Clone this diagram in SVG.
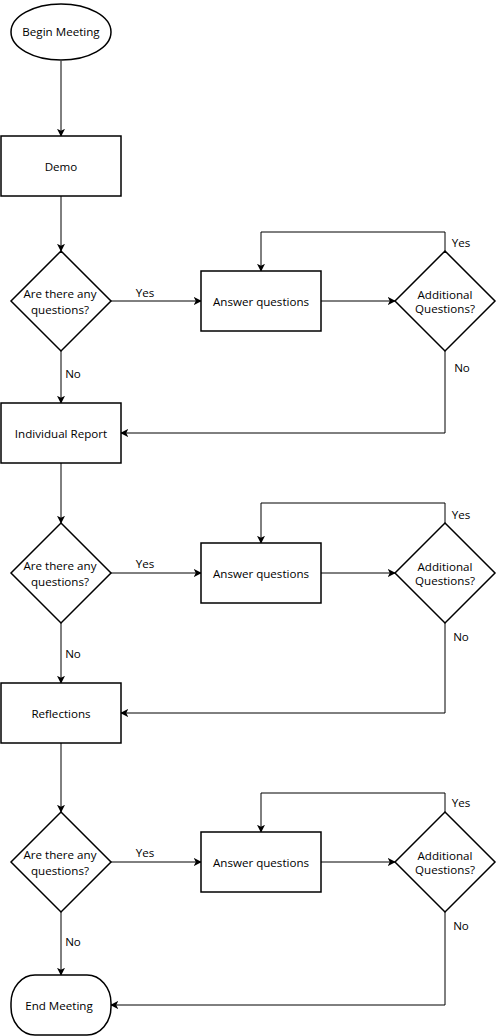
<svg xmlns="http://www.w3.org/2000/svg" width="497" height="1036" viewBox="0 0 497 1036">
<style>
.shape{fill:#fff;stroke:#000;stroke-width:1.5}
.conn{fill:none;stroke:#000;stroke-width:1}
text{font-family:"Open Sans","DejaVu Sans",sans-serif;font-size:11.6px;fill:#000}
.c{text-anchor:middle}
</style>
<defs>
<marker id="arr" viewBox="0 0 10 10" refX="9" refY="5" markerWidth="8" markerHeight="8" markerUnits="userSpaceOnUse" orient="auto">
<path d="M0,0 L10,5 L0,10 L2.5,5 z" fill="#000"/>
</marker>
</defs>
<g id="connectors">
<path class="conn" d="M61,61 L61,136" marker-end="url(#arr)"/>
<path class="conn" d="M61,196 L61,251" marker-end="url(#arr)"/>
<path class="conn" d="M111,301 L201,301" marker-end="url(#arr)"/>
<path class="conn" d="M321,301 L395,301" marker-end="url(#arr)"/>
<path class="conn" d="M445,251 L445,232 L261,232 L261,271" marker-end="url(#arr)"/>
<path class="conn" d="M445,351 L445,433 L121,433" marker-end="url(#arr)"/>
<path class="conn" d="M61,351 L61,403" marker-end="url(#arr)"/>
<path class="conn" d="M61,463 L61,523" marker-end="url(#arr)"/>
<path class="conn" d="M111,573 L201,573" marker-end="url(#arr)"/>
<path class="conn" d="M321,573 L395,573" marker-end="url(#arr)"/>
<path class="conn" d="M445,523 L445,503 L261,503 L261,543" marker-end="url(#arr)"/>
<path class="conn" d="M445,623 L445,713 L121,713" marker-end="url(#arr)"/>
<path class="conn" d="M61,623 L61,683" marker-end="url(#arr)"/>
<path class="conn" d="M61,743 L61,812" marker-end="url(#arr)"/>
<path class="conn" d="M111,862 L201,862" marker-end="url(#arr)"/>
<path class="conn" d="M321,862 L395,862" marker-end="url(#arr)"/>
<path class="conn" d="M445,812 L445,793 L261,793 L261,832" marker-end="url(#arr)"/>
<path class="conn" d="M445,912 L445,1005 L111,1005" marker-end="url(#arr)"/>
<path class="conn" d="M61,912 L61,975" marker-end="url(#arr)"/>
<text class="c" x="145" y="297">Yes</text>
<text class="c" x="461" y="247">Yes</text>
<text class="c" x="462" y="372">No</text>
<text class="c" x="73" y="378">No</text>
<text class="c" x="145" y="568">Yes</text>
<text class="c" x="461" y="519">Yes</text>
<text class="c" x="461" y="641">No</text>
<text class="c" x="73" y="658">No</text>
<text class="c" x="145" y="857">Yes</text>
<text class="c" x="461" y="807">Yes</text>
<text class="c" x="461" y="930">No</text>
<text class="c" x="73" y="946">No</text>
</g>
<g id="begin"><ellipse class="shape" cx="61" cy="32" rx="50" ry="28"/><text class="c" x="61" y="36">Begin Meeting</text></g>
<g id="demo"><rect class="shape" x="1" y="136" width="120" height="60"/><text class="c" x="61" y="171">Demo</text></g>
<g id="q1"><polygon class="shape" points="61,251 111,301 61,351 11,301"/><text class="c" x="60" y="298">Are there any</text><text class="c" x="60" y="314">questions?</text></g>
<g id="ans1"><rect class="shape" x="201" y="271" width="120" height="60"/><text class="c" x="261" y="306">Answer questions</text></g>
<g id="add1"><polygon class="shape" points="445,251 495,301 445,351 395,301"/><text class="c" x="445" y="299">Additional</text><text class="c" x="445" y="313">Questions?</text></g>
<g id="report"><rect class="shape" x="1" y="403" width="120" height="60"/><text class="c" x="61" y="438">Individual Report</text></g>
<g id="q2"><polygon class="shape" points="61,523 111,573 61,623 11,573"/><text class="c" x="60" y="570">Are there any</text><text class="c" x="60" y="586">questions?</text></g>
<g id="ans2"><rect class="shape" x="201" y="543" width="120" height="60"/><text class="c" x="261" y="578">Answer questions</text></g>
<g id="add2"><polygon class="shape" points="445,523 495,573 445,623 395,573"/><text class="c" x="445" y="571">Additional</text><text class="c" x="445" y="585">Questions?</text></g>
<g id="reflections"><rect class="shape" x="1" y="683" width="120" height="60"/><text class="c" x="61" y="718">Reflections</text></g>
<g id="q3"><polygon class="shape" points="61,812 111,862 61,912 11,862"/><text class="c" x="60" y="859">Are there any</text><text class="c" x="60" y="875">questions?</text></g>
<g id="ans3"><rect class="shape" x="201" y="832" width="120" height="60"/><text class="c" x="261" y="867">Answer questions</text></g>
<g id="add3"><polygon class="shape" points="445,812 495,862 445,912 395,862"/><text class="c" x="445" y="860">Additional</text><text class="c" x="445" y="874">Questions?</text></g>
<g id="end"><rect class="shape" x="11" y="975" width="100" height="60" rx="24" ry="28"/><text class="c" x="59" y="1010">End Meeting</text></g>
</svg>
